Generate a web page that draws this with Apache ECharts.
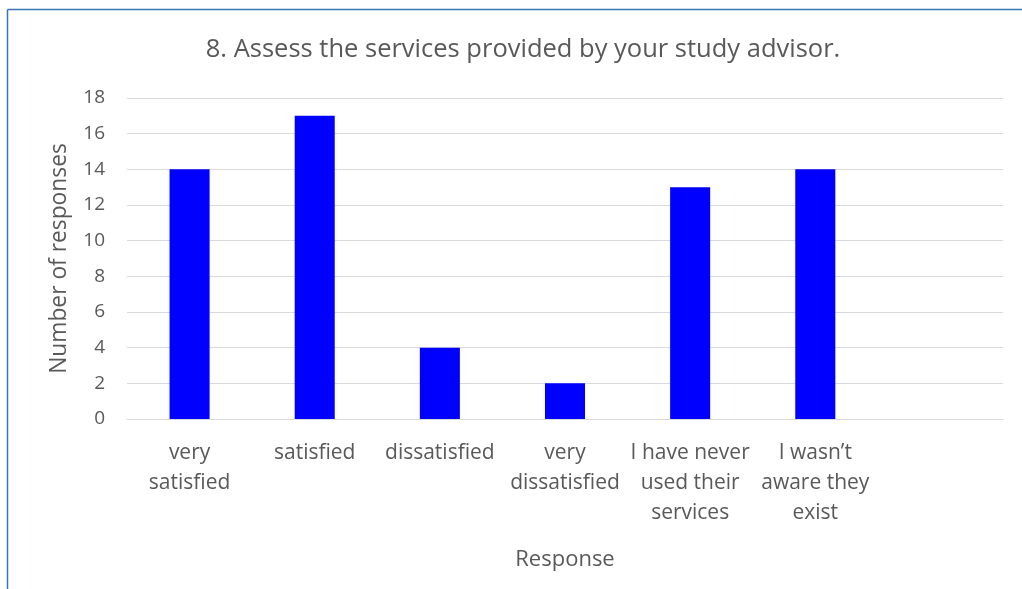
<!DOCTYPE html>
<html>
<head>
<meta charset="utf-8">
<script src="https://cdn.jsdelivr.net/npm/echarts@6/dist/echarts.min.js"></script>
<style>
  html, body { margin: 0; padding: 0; background: #fff; }
  #chart { width: 1022px; height: 589px; }
</style>
</head>
<body>
<div id="chart"></div>
<script>
// Survey answers (last slot is an unused category, left blank)
const categories = [
  'very\nsatisfied',
  'satisfied',
  'dissatisfied',
  'very\ndissatisfied',
  'I have never\nused their\nservices',
  'I wasn\u2019t\naware they\nexist',
  ''
];
const responses = [14, 17, 4, 2, 13, 14, null];
const yTicks = { min: 0, max: 18, interval: 2 };

const FONT = '"Open Sans", sans-serif';
const TEXT = '#595959';

const chart = echarts.init(document.getElementById('chart'), null, { renderer: 'canvas' });
chart.setOption({
  animation: false,
  backgroundColor: '#ffffff',
  title: {
    text: '8. Assess the services provided by your study advisor.',
    left: 518,
    top: 32,
    textAlign: 'center',
    textStyle: { fontFamily: FONT, fontSize: 25.5, fontWeight: 'normal', color: TEXT }
  },
  graphic: [
    { type: 'line', shape: { x1: 7.5, y1: 9.5, x2: 1022, y2: 9.5 },
      style: { stroke: '#3a75b5', lineWidth: 1.5 } },
    { type: 'line', shape: { x1: 7.5, y1: 9.5, x2: 7.5, y2: 589 },
      style: { stroke: '#3a75b5', lineWidth: 1.5 } }
  ],
  grid: { left: 127, right: 19, top: 98, bottom: 170, containLabel: false },
  xAxis: {
    type: 'category',
    data: categories,
    name: 'Response',
    nameLocation: 'middle',
    nameGap: 130,
    nameTextStyle: { fontFamily: FONT, fontSize: 22, color: TEXT },
    axisLine: { show: true, lineStyle: { color: '#d9d9d9', width: 1 } },
    axisTick: { show: false },
    axisLabel: {
      interval: 0, margin: 19, lineHeight: 30,
      fontFamily: FONT, fontSize: 21, color: TEXT
    }
  },
  yAxis: {
    type: 'value',
    min: yTicks.min, max: yTicks.max, interval: yTicks.interval,
    name: 'Number of responses',
    nameLocation: 'middle',
    nameGap: 56,
    nameTextStyle: { fontFamily: FONT, fontSize: 22.8, color: TEXT },
    axisLine: { show: false },
    axisTick: { show: false },
    axisLabel: { margin: 22, fontFamily: FONT, fontSize: 19, color: TEXT },
    splitLine: { show: true, lineStyle: { color: '#d9d9d9', width: 1 } }
  },
  series: [{
    type: 'bar',
    data: responses,
    barWidth: '32%',
    itemStyle: { color: '#0000ff' }
  }]
});
</script>
</body>
</html>
